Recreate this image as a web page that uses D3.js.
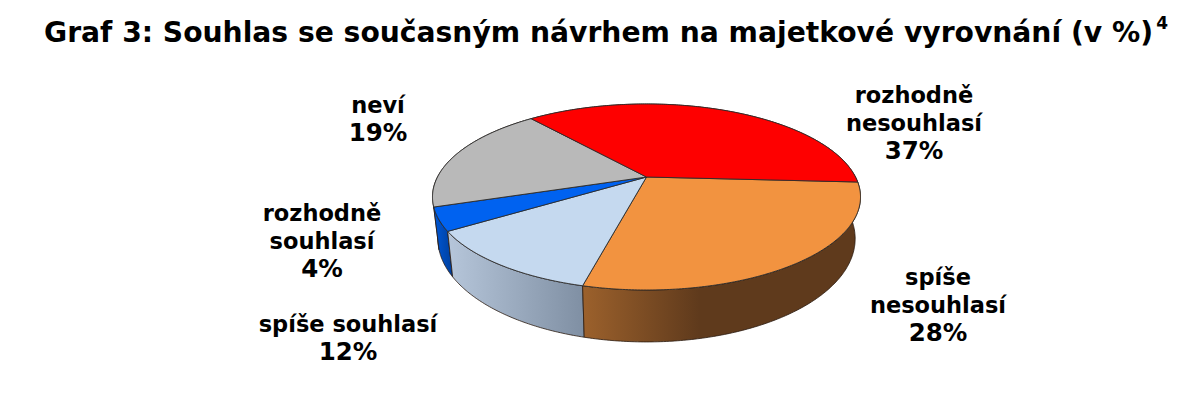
<!DOCTYPE html>
<html><head><meta charset="utf-8">
<script src="https://cdn.jsdelivr.net/npm/d3@7"></script>
<style>html,body{margin:0;padding:0;background:#fff}svg{display:block}text{font-family:"DejaVu Sans",Verdana,sans-serif;font-weight:bold;fill:#000}</style>
</head><body><svg id="c" width="1200" height="415"></svg>
<script>
const categories = ["spíše nesouhlasí","spíše souhlasí","rozhodně souhlasí","neví","rozhodně nesouhlasí"];
const values = [28,12,4,19,37];
const topColors = ["#f29340","#c5d9ef","#0062f0","#b9b9b9","#fe0000"];
const wallFrom = ["#9c612c","#b6c6da","#0058d8","#8a8a8a","#b00000"];
const wallTo = ["#5f3a1c","#7f8fa3","#003f9c","#6a6a6a","#800000"];
const labelLines = [["spíše","nesouhlasí","28%"],["spíše souhlasí","12%"],["rozhodně","souhlasí","4%"],["neví","19%"],["rozhodně","nesouhlasí","37%"]];
const labelX = [938,348,322,378,914];
const labelY = [284.5,332,220.5,113,102.8];

const cx=646.5, cy=177, a=209, k=88.7, p=0.215;
const svg=d3.select("#c");
const defs=svg.append("defs");
const project=(th,bottom)=>{
  const X=Math.cos(th),Y=Math.sin(th),w=1-p*Y;
  const dx=a*X/w, dy=k*Y/w;
  return bottom?[cx+0.975*dx, cy+39.5+1.11*dy]:[cx+dx,cy+dy];
};
const startAngle=93.2*Math.PI/180;
const arcs=d3.pie().sort(null).startAngle(startAngle).endAngle(startAngle+2*Math.PI)(values);
const line=d3.line();
const samples=(d,bottom)=>{
  const t0=d.startAngle-Math.PI/2,t1=d.endAngle-Math.PI/2;
  return d3.range(0,1.0001,1/Math.max(8,Math.ceil((t1-t0)*90))).map(f=>project(t0+(t1-t0)*f,bottom));
};
values.forEach((v,i)=>{
  const g=defs.append("linearGradient").attr("id","w"+i);
  const stops=i===0?[[0,wallFrom[i]],[.42,wallTo[i]],[1,wallTo[i]]]:[[0,wallFrom[i]],[1,wallTo[i]]];
  stops.forEach(s=>g.append("stop").attr("offset",s[0]).attr("stop-color",s[1]));
});
const order=[4,3,2,1,0];
svg.append("g").selectAll("path").data(order).join("path")
  .attr("d",i=>{const d=arcs[i];return line([...samples(d,false),...samples(d,true).reverse()])+"Z";})
  .attr("fill",i=>`url(#w${i})`).attr("stroke","#2a1a10").attr("stroke-width",.8).attr("stroke-linejoin","round");
svg.append("g").selectAll("path").data(arcs).join("path")
  .attr("d",d=>line([[cx,cy],...samples(d,false)])+"Z")
  .attr("fill",(d,i)=>topColors[i]).attr("stroke","#2b2b2b").attr("stroke-width",.9).attr("stroke-linejoin","round");
const labels=svg.append("g").attr("font-size",22.5).attr("text-anchor","middle");
labelLines.forEach((ls,i)=>{
  ls.forEach((t,j)=>{
    const pct=t.endsWith("%");
    labels.append("text").attr("x",labelX[i]).attr("y",labelY[i]+j*28.2)
      .attr("font-size",pct?24.5:null).text(t);
  });
});
const title=svg.append("text").attr("x",44).attr("y",42).attr("font-size",28.2);
title.append("tspan").text("Graf 3: Souhlas se současným návrhem na majetkové vyrovnání (v %)");
title.append("tspan").attr("font-size",17).attr("dy",-13).attr("dx",3).text("4");
</script></body></html>
